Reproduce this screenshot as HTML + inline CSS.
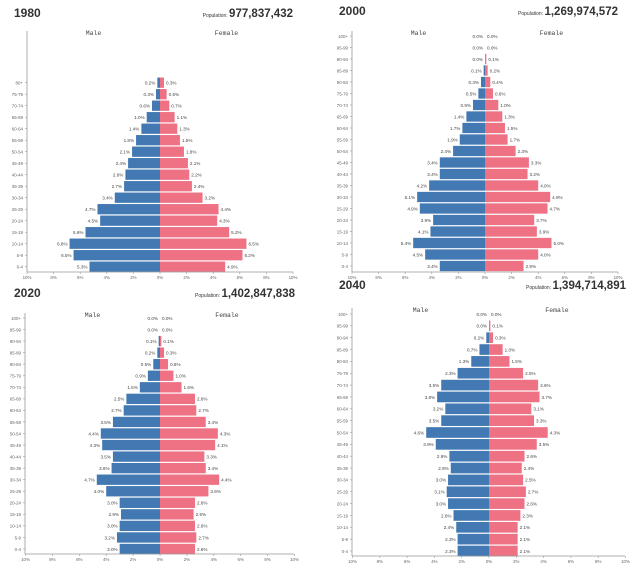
<!DOCTYPE html>
<html><head><meta charset="utf-8">
<style>
html,body{margin:0;padding:0;background:#fff;width:640px;height:573px;overflow:hidden;font-family:"Liberation Sans",sans-serif}
svg{position:absolute;left:0;top:0}
</style></head>
<body>
<svg id="chart" width="640" height="573"></svg>
<script>
const ageGroups = ["100+","95-99","90-94","85-89","80-84","75-79","70-74","65-69","60-64","55-59","50-54","45-49","40-44","35-39","30-34","25-29","20-24","15-19","10-14","5-9","0-4"];
const ages1980 = ["80+","75-79","70-74","65-69","60-64","55-59","50-54","45-49","40-44","35-39","30-34","25-29","20-24","15-19","10-14","5-9","0-4"];
const male1980 = [0.2,0.3,0.6,1.0,1.4,1.8,2.1,2.4,2.6,2.7,3.4,4.7,4.5,5.6,6.8,6.5,5.3];
const female1980 = [0.3,0.5,0.7,1.1,1.3,1.5,1.8,2.1,2.2,2.4,3.2,4.4,4.3,5.2,6.5,6.2,4.9];
const male2000 = [0.0,0.0,0.0,0.1,0.3,0.5,0.9,1.4,1.7,1.9,2.4,3.4,3.4,4.2,5.1,4.9,3.9,4.1,5.4,4.5,3.4];
const female2000 = [0.0,0.0,0.1,0.2,0.4,0.6,1.0,1.3,1.5,1.7,2.3,3.3,3.2,4.0,4.9,4.7,3.7,3.9,5.0,4.0,2.9];
const male2020 = [0.0,0.0,0.1,0.2,0.5,0.9,1.5,2.5,2.7,3.5,4.4,4.3,3.5,3.6,4.7,4.0,3.0,2.9,3.0,3.2,3.0];
const female2020 = [0.0,0.0,0.1,0.3,0.6,1.0,1.6,2.6,2.7,3.4,4.3,4.1,3.3,3.4,4.4,3.6,2.6,2.5,2.6,2.7,2.6];
const male2040 = [0.0,0.0,0.2,0.7,1.3,2.3,3.5,3.8,3.2,3.5,4.6,3.9,2.9,2.8,3.0,3.1,3.0,2.6,2.4,2.3,2.3];
const female2040 = [0.0,0.1,0.3,1.0,1.5,2.5,3.6,3.7,3.1,3.3,4.3,3.5,2.6,2.4,2.5,2.7,2.6,2.3,2.1,2.1,2.1];
const tickValues = [-10,-8,-6,-4,-2,0,2,4,6,8,10];
const tickLabels = ["10%","8%","6%","4%","2%","0%","2%","4%","6%","8%","10%"];

const NS="http://www.w3.org/2000/svg";
const svg=document.getElementById('chart');
function mk(tag,attrs,parent,text){const e=document.createElementNS(NS,tag);for(const k in attrs)e.setAttribute(k,attrs[k]);if(text!==undefined)e.textContent=text;(parent||svg).appendChild(e);return e;}

const panels=[
 {year:"1980",pop:"977,837,432",ages:ages1980,male:male1980,female:female1980,ax0:27,zero:160,axEnd:293,axY:272,rowTop:36.7,pitch:11.5,axTop:31,tx:14,ty:17,px:293,py:17},
 {year:"2000",pop:"1,269,974,572",ages:ageGroups,male:male2000,female:female2000,ax0:352,zero:485,axEnd:618,axY:272,rowTop:36,pitch:11.5,axTop:31,tx:339,ty:15,px:618,py:15},
 {year:"2020",pop:"1,402,847,838",ages:ageGroups,male:male2020,female:female2020,ax0:25,zero:160,axEnd:294,axY:554,rowTop:318,pitch:11.55,axTop:313,tx:14,ty:297,px:295,py:297},
 {year:"2040",pop:"1,394,714,891",ages:ageGroups,male:male2040,female:female2040,ax0:352,zero:489,axEnd:625,axY:556,rowTop:314,pitch:11.85,axTop:308,tx:339,ty:289,px:626,py:289}
];

panels.forEach(p=>{
  const g=mk('g',{});
  
  
  const sc=(p.axEnd-p.ax0)/20;
  const x=v=>p.zero+v*sc;
  const offset=ageGroups.length-p.ages.length;
  const y=i=>p.rowTop+(i+offset)*p.pitch;
  const t=mk('text',{x:p.tx,y:p.ty,'font-size':12,'font-weight':'bold',fill:'#333'},g,p.year);
  
  
  const pt=mk('text',{x:p.px,y:p.py,'text-anchor':'end',fill:'#333'},g);
  
  
  mk('tspan',{'font-size':5},pt,'Population: ');
  mk('tspan',{'font-size':11.5,'font-weight':'bold'},pt,p.pop);
  const ml=mk('text',{x:(p.ax0+p.zero)/2,y:p.axTop+4,'font-size':6.5,'text-anchor':'middle',fill:'#444','font-family':'Liberation Mono,monospace'},g,'Male');
  
  
  const fl=mk('text',{x:(p.axEnd+p.zero)/2,y:p.axTop+4,'font-size':6.5,'text-anchor':'middle',fill:'#444','font-family':'Liberation Mono,monospace'},g,'Female');
  
  
  p.ages.forEach((a,i)=>{
    const yc=y(i);
    const h=p.pitch-1.2;
    const mv=p.male[i], fv=p.female[i];
    const mb=mk('rect',{x:x(-mv),y:yc-h/2,width:x(0)-x(-mv),height:h,fill:'#4279b3'},g);
    
    
    const fb=mk('rect',{x:x(0),y:yc-h/2,width:x(fv)-x(0),height:h,fill:'#ee7184'},g);
    
    
    const mt=mk('text',{x:x(-mv)-2,y:yc+1.8,'font-size':4.6,'text-anchor':'end',fill:'#444'},g,mv.toFixed(1)+'%');
    
    
    const ft=mk('text',{x:x(fv)+2,y:yc+1.8,'font-size':4.6,fill:'#444'},g,fv.toFixed(1)+'%');
    
    
    const al=mk('text',{x:p.ax0-4,y:yc+1.8,'font-size':4.4,'text-anchor':'end',fill:'#666'},g,a);
    
    
    mk('line',{x1:p.ax0-2,x2:p.ax0,y1:yc,y2:yc,stroke:'#999','stroke-width':0.6},g);
  });
  const ya=mk('line',{x1:p.ax0,x2:p.ax0,y1:p.axTop,y2:p.axY,stroke:'#999','stroke-width':0.8},g);
  
  
  const xa=mk('line',{x1:p.ax0,x2:p.axEnd,y1:p.axY,y2:p.axY,stroke:'#999','stroke-width':0.8},g);
  
  
  tickValues.forEach((v,k)=>{
    mk('line',{x1:x(v),x2:x(v),y1:p.axY,y2:p.axY+2,stroke:'#999','stroke-width':0.6},g);
    const tl=mk('text',{x:x(v),y:p.axY+7,'font-size':4.4,'text-anchor':'middle',fill:'#666'},g,tickLabels[k]);
    
    
  });
});
</script>
</body></html>
